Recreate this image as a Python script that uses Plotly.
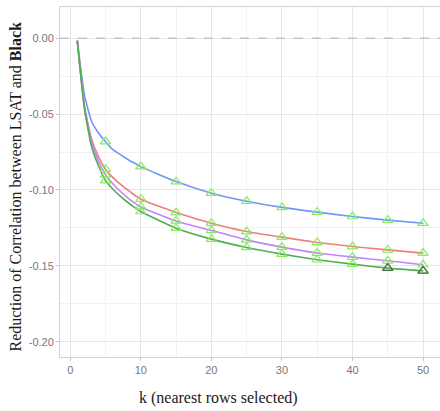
import plotly.graph_objects as go

# ---- data ----
k_values = [1, 2, 3, 4, 5, 6, 7, 8, 9, 10, 15, 20, 25, 30, 35, 40, 45, 50]
series_blue = [-0.0016, -0.037, -0.0545, -0.0624, -0.0681, -0.0733, -0.0764, -0.0794, -0.0821, -0.0846,
               -0.0945, -0.1021, -0.1074, -0.1115, -0.1146, -0.1175, -0.1199, -0.1219]
series_red = [-0.0016, -0.044, -0.066, -0.078, -0.0863, -0.0915, -0.0958, -0.0995, -0.1030, -0.1061,
              -0.1149, -0.1219, -0.1274, -0.1311, -0.1346, -0.1373, -0.1395, -0.1416]
series_purple = [-0.0016, -0.045, -0.068, -0.081, -0.0900, -0.0958, -0.1005, -0.1045, -0.1082, -0.1112,
                 -0.1204, -0.1267, -0.1329, -0.1377, -0.1416, -0.1443, -0.1467, -0.1493]
series_green = [-0.0016, -0.046, -0.071, -0.084, -0.0938, -0.0992, -0.1037, -0.1076, -0.1111, -0.1142,
                -0.1252, -0.1324, -0.1379, -0.1423, -0.1460, -0.1489, -0.1515, -0.1533]
marker_k = [5, 10, 15, 20, 25, 30, 35, 40, 45, 50]
dark_marker_k = [45, 50]
x_ticks = [0, 10, 20, 30, 40, 50]
y_ticks = [0.0, -0.05, -0.10, -0.15, -0.20]
y_tick_labels = ["0.00", "-0.05", "-0.10", "-0.15", "-0.20"]

colors = {"blue": "#6E97F7", "red": "#EE8075", "purple": "#C283FA", "green": "#4DB04F"}
tri_color = "#86EC5E"
dark_tri = "#4A664A"

series = [("blue", series_blue), ("red", series_red), ("purple", series_purple), ("green", series_green)]

fig = go.Figure()

# zero reference line
fig.add_trace(go.Scatter(x=[-1.45, 52.4], y=[0, 0], mode="lines",
                         line=dict(color="#C4C4C4", width=1.3, dash="dash"),
                         hoverinfo="skip", showlegend=False))

for name, vals in series:
    fig.add_trace(go.Scatter(x=k_values, y=vals, mode="lines",
                             line=dict(color=colors[name], width=1.6, shape="spline", smoothing=0.5),
                             showlegend=False))

for name, vals in series:
    mk = [k for k in k_values if k in marker_k]
    mv = [v for k, v in zip(k_values, vals) if k in marker_k]
    fig.add_trace(go.Scatter(x=mk, y=mv, mode="markers",
                             marker=dict(symbol="triangle-up-open", size=9, color=tri_color,
                                         line=dict(width=1.2, color=tri_color)),
                             showlegend=False))

dk = [k for k in k_values if k in dark_marker_k]
dv = [v for k, v in zip(k_values, series_green) if k in dark_marker_k]
fig.add_trace(go.Scatter(x=dk, y=dv, mode="markers",
                         marker=dict(symbol="triangle-up-open", size=9, color=dark_tri,
                                     line=dict(width=1.2, color=dark_tri)),
                         showlegend=False))

axis_common = dict(showline=True, mirror=True, linecolor="#D2D2D2", linewidth=1,
                   gridcolor="#E6E6E6", gridwidth=1, zeroline=False, automargin=False,
                   ticks="outside", ticklen=3, tickcolor="#C8C8C8",
                   tickfont=dict(family="Liberation Sans, Arial", size=11, color="#777777"))

fig.update_xaxes(range=[-1.45, 52.4], tickvals=x_ticks, **axis_common,
                 minor=dict(tickvals=[5, 15, 25, 35, 45], showgrid=True, gridcolor="#F2F2F2", ticks=""))
fig.update_yaxes(range=[-0.2101, 0.0206], tickvals=y_ticks, ticktext=y_tick_labels, **axis_common,
                 minor=dict(tickvals=[-0.025, -0.075, -0.125, -0.175], showgrid=True,
                            gridcolor="#F2F2F2", ticks=""))

fig.update_layout(
    width=440, height=411,
    margin=dict(l=60, r=0, t=7, b=54, autoexpand=False),
    paper_bgcolor="white", plot_bgcolor="white",
    annotations=[
        dict(text="k (nearest rows selected)", xref="paper", yref="paper",
             x=(218 - 60) / 380, y=-(398 - 357) / 350, xanchor="center", yanchor="middle",
             showarrow=False, font=dict(family="Liberation Serif, Times New Roman", size=16, color="#1a1a1a")),
        dict(text="Reduction of Correlation between LSAT and <b>Black</b>", xref="paper", yref="paper",
             x=-45 / 380, y=(357 - 186.5) / 350, xanchor="center", yanchor="middle", textangle=-90,
             showarrow=False, font=dict(family="Liberation Serif, Times New Roman", size=16, color="#1a1a1a")),
    ],
)

fig.write_html("out.html", config={"displayModeBar": False},
               post_script="document.body.style.margin='0';document.body.style.overflow='hidden';")
